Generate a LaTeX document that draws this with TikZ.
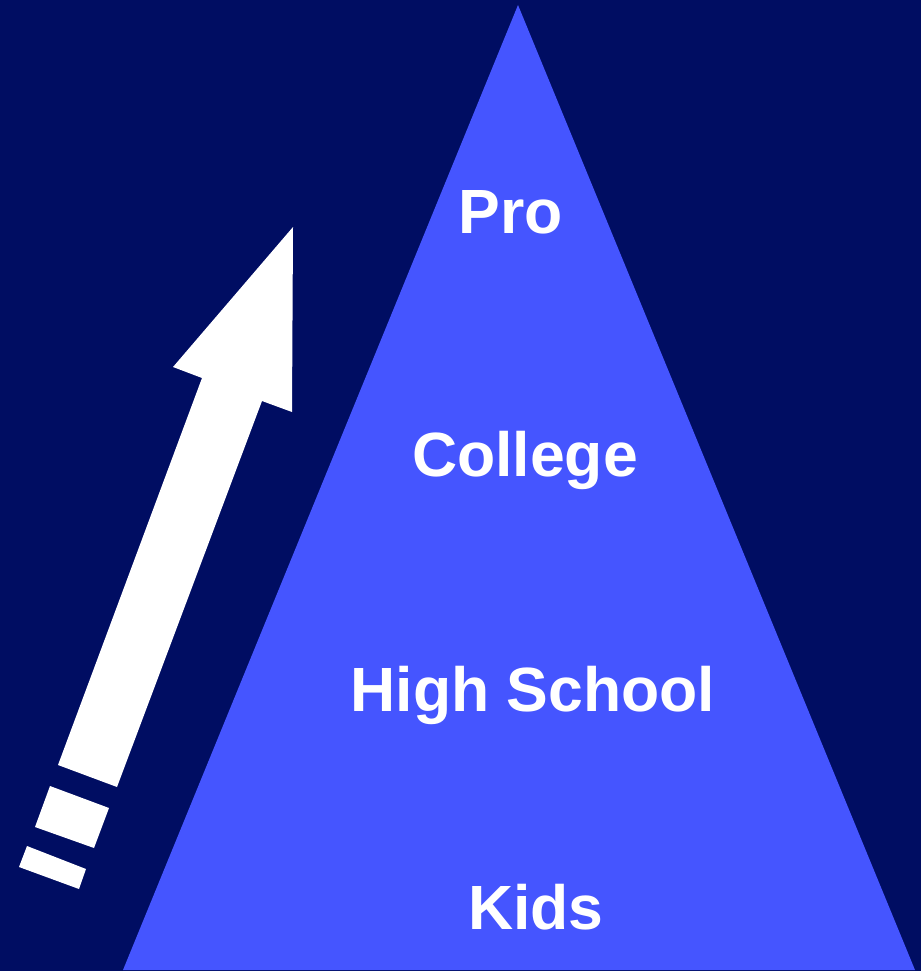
\documentclass[tikz,border=0pt]{standalone}
\usepackage{fontspec}
\setmainfont{Liberation Sans}
\definecolor{navy}{RGB}{0,13,98}
\definecolor{pyramid}{RGB}{69,85,255}
\tikzset{
    level/.style={text=white, font=\fontsize{62.5}{62.5}\selectfont\bfseries, anchor=base, inner sep=0pt}
}
\begin{document}
\begin{tikzpicture}[x=1pt, y=-1pt]
    \fill[navy] (0,0) rectangle (921,971);
    \useasboundingbox (0,0) rectangle (921,971);
    \fill[pyramid] (518,5) -- (123,970) -- (915,970) -- cycle;
    % arrow
    \fill[white] (293,227) -- (173,367) -- (202,378) -- (58,765) -- (117,787)
        -- (262,401) -- (292,412) -- cycle;
    \fill[white] (50,786) -- (109,808) -- (94,848) -- (35,827) -- cycle;
    \fill[white] (27,846) -- (86,869) -- (79,889) -- (19,867) -- cycle;
    % levels
    \node[level] (pro) at (511,233) {Pro};
    \node[level] (college) at (525,476) {College};
    \node[level] (highschool) at (533,711) {High School};
    \node[level] (kids) at (536,929) {Kids};
\end{tikzpicture}
\end{document}
